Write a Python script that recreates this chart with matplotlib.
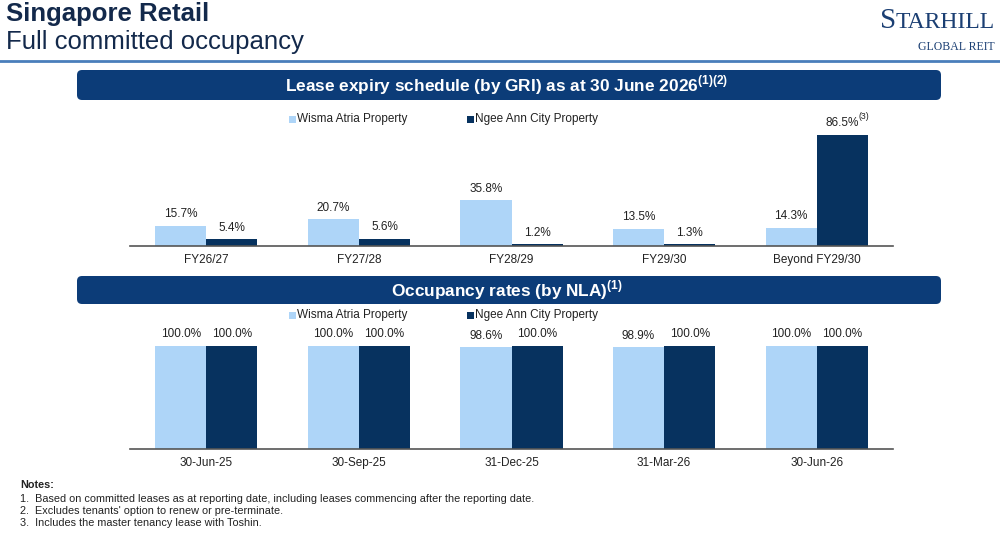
import numpy as np
import matplotlib
matplotlib.use("Agg")
import matplotlib.pyplot as plt
from matplotlib.patches import FancyBboxPatch, Rectangle

plt.rcParams['font.family'] = ['Liberation Sans', 'DejaVu Sans']
plt.rcParams['mathtext.fontset'] = 'custom'
plt.rcParams['mathtext.rm'] = 'Liberation Sans'
plt.rcParams['mathtext.bf'] = 'Liberation Sans:bold'

# data
series = ['Wisma Atria Property', 'Ngee Ann City Property']
expiry_years = ['FY26/27', 'FY27/28', 'FY28/29', 'FY29/30', 'Beyond FY29/30']
expiry_wisma = [15.7, 20.7, 35.8, 13.5, 14.3]
expiry_ngee = [5.4, 5.6, 1.2, 1.3, 86.5]
occ_dates = ['30-Jun-25', '30-Sep-25', '31-Dec-25', '31-Mar-26', '30-Jun-26']
occ_wisma = [100.0, 100.0, 98.6, 98.9, 100.0]
occ_ngee = [100.0, 100.0, 100.0, 100.0, 100.0]
notes = ['1.  Based on committed leases as at reporting date, including leases commencing after the reporting date.',
         "2.  Excludes tenants' option to renew or pre-terminate.",
         '3.  Includes the master tenancy lease with Toshin.']

LIGHT = '#AED5F8'
DARK = '#07325F'
NAVY = '#0C3C78'
TXT = '#222222'

W, H = 1000, 538
fig = plt.figure(figsize=(W / 100, H / 100), dpi=100)
tr = fig.dpi_scale_trans


def inch(x, y):
    return x / 100, (H - y) / 100


# header
fig.text(*inch(6, 14), 'Singapore Retail', fontsize=18.5, fontweight='bold',
         color='#13294B', va='center', transform=tr)
fig.text(*inch(6, 42), 'Full committed occupancy', fontsize=18.5,
         color='#13294B', va='center', transform=tr)
fig.add_artist(plt.Line2D([0, 10], [(H - 61) / 100] * 2, transform=tr,
                          color='#4A7EBB', lw=2))

# logo
rest = fig.text(*inch(995, 28), 'TARHILL', fontsize=17, family='Liberation Serif',
                color='#1B3F73', ha='right', va='baseline', transform=tr)
r = fig.canvas.get_renderer()
left = rest.get_window_extent(r).x0 / 100
fig.text(left, (H - 28) / 100, 'S', fontsize=21, family='Liberation Serif',
         color='#1B3F73', ha='right', va='baseline', transform=tr)
fig.text(*inch(995, 47), 'GLOBAL REIT', fontsize=8.5, family='Liberation Serif',
         color='#1B3F73', ha='right', va='center', transform=tr)


def banner(y0, y1, label):
    x0, yb = inch(77, y1)
    box = FancyBboxPatch((x0, yb), 8.64, (y1 - y0) / 100,
                         boxstyle='round,pad=0,rounding_size=0.05',
                         transform=tr, fc=NAVY, ec='none')
    fig.add_artist(box)
    fig.text(*inch(507, (y0 + y1) / 2), label, color='white', fontsize=12.4,
             fontweight='bold', ha='center', va='center', transform=tr)


def legend(y):
    for xs, col, name in [(289, LIGHT, series[0]), (467, DARK, series[1])]:
        sx, sy = inch(xs, y + 3.5)
        fig.add_artist(Rectangle((sx, sy), 0.065, 0.065, transform=tr,
                                 fc=col, ec='none'))
        fig.text(*inch(xs + 8, y), name, fontsize=8.5, color=TXT,
                 va='center', transform=tr)


def bars(top, bottom, ymax, cats, a, b, sup=None):
    ax = fig.add_axes([130 / W, 1 - bottom / H, (893 - 130) / W, (bottom - top) / H])
    x = np.arange(len(cats))
    w = 0.335
    ba = ax.bar(x - w / 2, a, w, color=LIGHT)
    bb = ax.bar(x + w / 2, b, w, color=DARK)
    for rects, vals in [(ba, a), (bb, b)]:
        for rc, v in zip(rects, vals):
            ax.annotate(f'{v:.1f}%', (rc.get_x() + rc.get_width() / 2, v),
                        xytext=(0, 4), textcoords='offset points',
                        ha='center', va='bottom', fontsize=8.5, color=TXT)
    if sup is not None:
        i, txt = sup
        ax.annotate(txt, (x[i] + w / 2, b[i]), xytext=(11.5, 10),
                    textcoords='offset points', ha='left', va='bottom',
                    fontsize=6.3, color=TXT)
    ax.set_xlim(-0.5, len(cats) - 0.5)
    ax.set_ylim(0, ymax)
    ax.set_xticks(x)
    ax.set_xticklabels(cats, fontsize=8.5, color=TXT)
    ax.tick_params(axis='x', length=0, pad=6)
    ax.set_yticks([])
    for s in ['top', 'left', 'right']:
        ax.spines[s].set_visible(False)
    ax.spines['bottom'].set_color('#555555')
    ax.spines['bottom'].set_linewidth(1.2)
    ax.patch.set_alpha(0)
    return ax


banner(70, 100, r'Lease expiry schedule (by GRI) as at 30 June 2026$^{\mathbf{(1)(2)}}$')
legend(119)
bars(130, 246, (246 - 130) / 1.283, expiry_years, expiry_wisma, expiry_ngee, sup=(4, '(3)'))

banner(276, 304, r'Occupancy rates (by NLA)$^{\mathbf{(1)}}$')
legend(315)
bars(335, 449, (449 - 335) / 1.03, occ_dates, occ_wisma, occ_ngee)

# notes
fig.text(*inch(20, 485), 'Notes:', fontsize=7.8, fontweight='bold', color=TXT,
         va='center', transform=tr)
for k, line in enumerate(notes):
    fig.text(*inch(20, 499 + 12 * k), line, fontsize=7.8, color=TXT,
             va='center', transform=tr)

fig.savefig('out.png', dpi=100)
